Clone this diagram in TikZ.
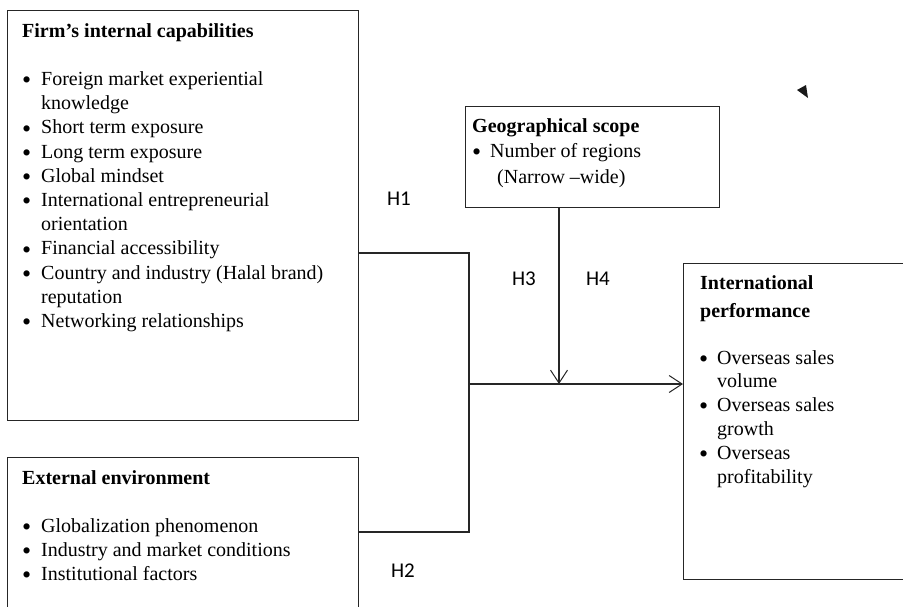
\documentclass[tikz,border=0pt]{standalone}
\usepackage{fontspec}
\setmainfont{Liberation Serif}
\newfontfamily\hfont{Carlito}
\usetikzlibrary{arrows.meta}
\tikzset{
  box/.style={draw=black!85, line width=1.1pt, inner sep=0pt, anchor=north west},
  conn/.style={draw=black!85, line width=1.1pt},
  barb/.style={-{Straight Barb[length=13pt,width=17pt,line width=1pt]}},
  txt/.style={inner sep=0pt, anchor=base west, align=left},
  hlab/.style={inner sep=0pt, font=\hfont\fontsize{21}{24}\selectfont}
}
\newcommand{\bdot}{\smash{\raisebox{-3.2pt}{\scalebox{1.3}{\textbullet}}}}
\newcommand{\bul}{\makebox[18pt][l]{\bdot}}
\begin{document}
\begin{tikzpicture}[x=1pt,y=-1pt]
\useasboundingbox (0,0) rectangle (903,606);
% boxes
\node[box, minimum width=351pt, minimum height=410pt] (A) at (7,10) {};
\node[box, minimum width=351pt, minimum height=180pt] (B) at (7,457) {};
\node[box, minimum width=254pt, minimum height=101pt] (G) at (465,106) {};
\node[box, minimum width=240pt, minimum height=316pt] (P) at (683,263) {};
% box texts
\node[txt] (At) at (22,37) {\fontsize{20}{24.2}\selectfont
\begin{tabular}[t]{@{}p{19pt}@{}l@{}}
\multicolumn{2}{@{}l@{}}{\bfseries Firm’s internal capabilities}\\
 & \\
\bdot & Foreign market experiential\\
 & knowledge\\
\bdot & Short term exposure\\
\bdot & Long term exposure\\
\bdot & Global mindset\\
\bdot & International entrepreneurial\\
 & orientation\\
\bdot & Financial accessibility\\
\bdot & Country and industry (Halal brand)\\
 & reputation\\
\bdot & Networking relationships
\end{tabular}};
\node[txt] (Bt) at (22,484) {\fontsize{20}{24}\selectfont
\begin{tabular}[t]{@{}p{19pt}@{}l@{}}
\multicolumn{2}{@{}l@{}}{\bfseries External environment}\\
 & \\
\bdot & Globalization phenomenon\\
\bdot & Industry and market conditions\\
\bdot & Institutional factors
\end{tabular}};
\node[txt] (Gt) at (472,132) {\fontsize{20}{25.5}\selectfont
\begin{tabular}[t]{@{}l@{}}
\bfseries Geographical scope\\
\bul Number of regions\\
\hspace{25pt}(Narrow –wide)
\end{tabular}};
\node[txt] (Pt) at (700,289) {\fontsize{20}{28}\selectfont
\begin{tabular}[t]{@{}l@{}}
\bfseries International\\
\bfseries performance
\end{tabular}};
\node[txt] (Pi) at (699,364) {\fontsize{20}{23.8}\selectfont
\begin{tabular}[t]{@{}p{18pt}@{}l@{}}
\bdot & Overseas sales\\
 & volume\\
\bdot & Overseas sales\\
 & growth\\
\bdot & Overseas\\
 & profitability
\end{tabular}};
% connectors
\coordinate (j1) at (469,253);
\coordinate (j2) at (469,532);
\coordinate (j3) at (469,384);
\coordinate (m) at (559,384);
\draw[conn] (A.east |- j1) -- (j1) -- (j2) -- (B.east |- j2);
\draw[conn, barb] (j3) -- (P.west |- j3);
\draw[conn, barb] (G.south -| m) -- (m);
% hypothesis labels
\node[hlab] (H1) at (399,199) {H1};
\node[hlab] (H2) at (403,571) {H2};
\node[hlab] (H3) at (524,279) {H3};
\node[hlab] (H4) at (598,279) {H4};
% stray mark
\fill[black!90] (797,90) -- (806,85) -- (808,98) -- cycle;
\end{tikzpicture}
\end{document}
